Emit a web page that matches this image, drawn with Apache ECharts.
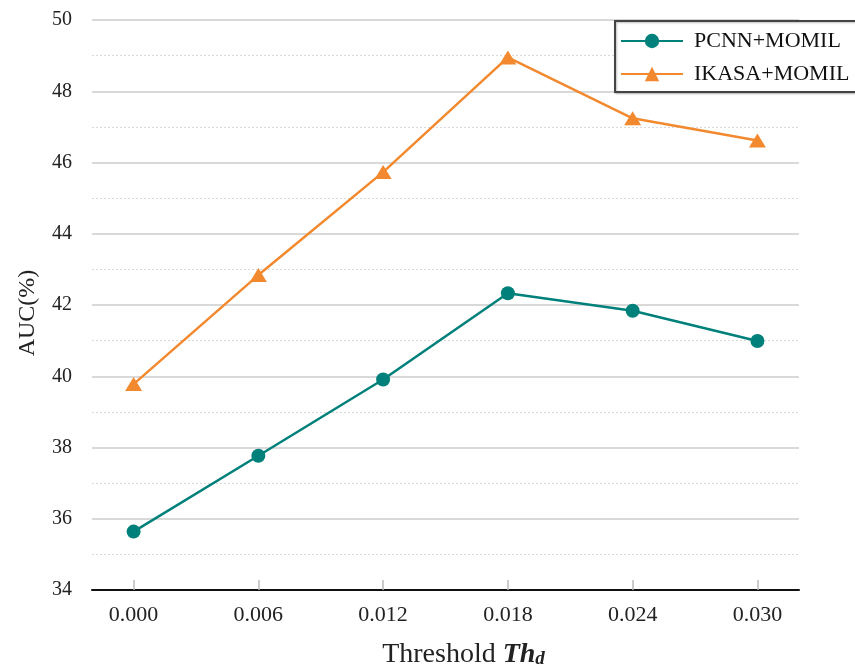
<!DOCTYPE html>
<html>
<head>
<meta charset="utf-8">
<script src="https://cdn.jsdelivr.net/npm/echarts@6/dist/echarts.min.js"></script>
<style>html,body{margin:0;padding:0;background:#fff;overflow:hidden;}#c{width:855px;height:666px;}</style>
</head>
<body>
<div id="c"></div>
<script>
var thresholds = [0, 0.006, 0.012, 0.018, 0.024, 0.030];
var pcnnMomil = [35.64, 37.77, 39.91, 42.33, 41.84, 40.99];
var ikasaMomil = [39.78, 42.84, 45.73, 48.95, 47.24, 46.62];
var seriesNames = ['PCNN+MOMIL', 'IKASA+MOMIL'];
var yTicks = [34, 50, 2];

function pairs(xs, ys) { return xs.map(function (x, i) { return [x, ys[i]]; }); }

var chart = echarts.init(document.getElementById('c'), null, {renderer: 'canvas'});
var serif = '"Liberation Serif", "Times New Roman", serif';
chart.setOption({
  backgroundColor: '#fff',
  animation: false,
  grid: {left: 92, right: 56, top: 20, bottom: 76, containLabel: false, outerBoundsMode: 'none'},
  legend: {
    left: 615, top: 21,
    orient: 'vertical',
    padding: [8, 60, 6, 5],
    itemWidth: 62, itemHeight: 18, itemGap: 9,
    borderColor: '#444', borderWidth: 2, backgroundColor: '#fff',
    shadowColor: 'rgba(0,0,0,0.25)', shadowBlur: 2, shadowOffsetX: 1, shadowOffsetY: 1,
    textStyle: {fontFamily: serif, fontSize: 22, lineHeight: 24, color: '#111', padding: [0, 0, 0, 6]},
    data: seriesNames
  },
  xAxis: {
    type: 'value',
    min: -0.002, max: 0.032,
    splitLine: {show: false},
    axisLine: {show: true, onZero: false, lineStyle: {color: '#111', width: 2}},
    axisTick: {show: true, inside: true, length: 10, customValues: thresholds, lineStyle: {color: '#bbb', width: 1.5}},
    axisLabel: {customValues: thresholds, fontFamily: serif, fontSize: 22, color: '#222', margin: 14,
      formatter: function (v) { return v.toFixed(3); }},
    name: '{a|Threshold }{b|Th}{c|d}',
    nameLocation: 'middle', nameGap: 50,
    nameTextStyle: {
      padding: [0, 0, 0, 36],
      rich: {
        a: {fontFamily: serif, fontSize: 28, color: '#222'},
        b: {fontFamily: serif, fontSize: 28, fontStyle: 'italic', fontWeight: 'bold', color: '#222'},
        c: {fontFamily: serif, fontSize: 19, fontStyle: 'italic', fontWeight: 'bold', color: '#222', verticalAlign: 'bottom', padding: [10, 0, 0, 0]}
      }
    }
  },
  yAxis: {
    type: 'value',
    min: yTicks[0], max: yTicks[1], interval: yTicks[2],
    axisLine: {show: false},
    axisTick: {show: false},
    axisLabel: {fontFamily: serif, fontSize: 20, color: '#222', margin: 20},
    splitLine: {show: true, lineStyle: {color: '#cccccc', width: 1.5}},
    minorTick: {show: false, splitNumber: 2},
    minorSplitLine: {show: true, lineStyle: {color: '#d8d8d8', width: 1, type: [2, 2]}},
    name: 'AUC(%)',
    nameLocation: 'middle', nameGap: 52, nameRotate: 90,
    nameTextStyle: {fontFamily: serif, fontSize: 24, color: '#222', padding: [0, 16, 0, 0]}
  },
  series: [
    {
      name: seriesNames[0], type: 'line',
      data: pairs(thresholds, pcnnMomil),
      symbol: 'circle', symbolSize: 14,
      itemStyle: {color: '#00807a'},
      lineStyle: {color: '#00807a', width: 2.5},
      z: 3
    },
    {
      name: seriesNames[1], type: 'line',
      data: pairs(thresholds, ikasaMomil),
      symbol: 'triangle', symbolSize: [17, 14],
      itemStyle: {color: '#f2892e'},
      lineStyle: {color: '#f2892e', width: 2.5},
      z: 3
    }
  ]
});
</script>
</body>
</html>
